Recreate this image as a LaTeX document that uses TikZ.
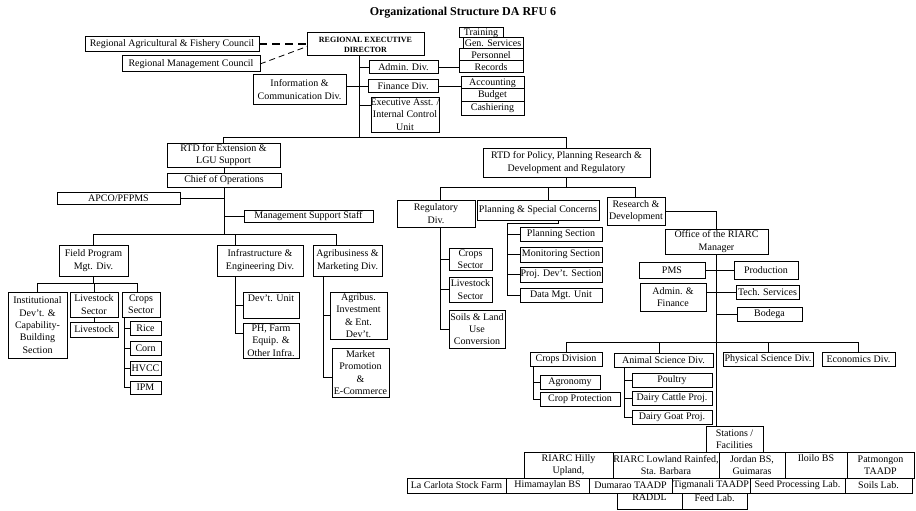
\documentclass[tikz,border=0pt]{standalone}
\usepackage{fontspec}
\setmainfont{Liberation Serif}
\tikzset{
 box/.style={draw, line width=1pt, inner sep=0pt, outer sep=0pt},
 txt/.style={inner sep=0pt, align=center, font=\fontsize{10}{12.3}\selectfont},
 ln/.style={line width=1pt},
}
\newcommand\bx[6]{\node[box,minimum width={#4pt-#2pt},minimum height={#5pt-#3pt}] (#1) at ({(#2+#4)/2},{(#3+#5)/2}) {};\node[txt] at (#1.center) {#6};}
\newcommand\bxt[7]{\node[box,minimum width={#4pt-#2pt},minimum height={#5pt-#3pt}] (#1) at ({(#2+#4)/2},{(#3+#5)/2}) {};\node[txt,anchor=north] at ([yshift=-#7pt]#1.north) {#6};}
\begin{document}
\begin{tikzpicture}[x=1pt,y=-1pt]
\useasboundingbox[fill=white] (0,0) rectangle (916,511);
\node[font=\bfseries\fontsize{12}{14}\selectfont] (title) at (463,13) {Organizational Structure DA RFU 6};
% top
\bx{rafc}{85}{37}{259}{52}{Regional Agricultural \& Fishery Council}
\bx{rmc}{122}{56}{260}{72}{Regional Management Council}
\node[box,minimum width=117pt,minimum height=23pt] (red) at (365.5,44.5) {};
\node[inner sep=0pt,align=center,font=\bfseries\fontsize{8}{10}\selectfont] at (red.center) {REGIONAL EXECUTIVE\\DIRECTOR};
\bx{train}{459}{28}{503}{38}{Training}
\bx{gen}{463}{38}{523}{49}{Gen. Services}
\bx{pers}{459}{49}{523}{61}{Personnel}
\bx{rec}{459}{61}{523}{73}{Records}
\bx{admin}{369}{61}{438}{74}{Admin. Div.}
\bx{acct}{461}{77}{524}{89}{Accounting}
\bx{budg}{461}{89}{524}{101}{Budget}
\bx{cash}{461}{101}{524}{115}{Cashiering}
\bx{fin}{368}{80}{438}{93}{Finance Div.}
\bx{info}{253}{75}{346}{104}{Information \&\\Communication Div.}
\bx{exec}{371}{97}{439}{132}{Executive Asst. /\\Internal Control\\Unit}
% left branch
\bx{rtdext}{167}{143}{280}{167}{RTD for Extension \&\\LGU Support}
\bx{chief}{167}{173}{281}{187}{Chief of Operations}
\bx{apco}{57}{192}{180}{204}{APCO/PFPMS}
\bx{mss}{244}{210}{373}{222}{Management Support Staff}
\bx{field}{59}{245}{128}{276}{Field Program\\Mgt. Div.}
\bx{infra}{217}{245}{303}{276}{Infrastructure \&\\Engineering Div.}
\bx{agri}{313}{245}{382}{276}{Agribusiness \&\\Marketing Div.}
\bx{inst}{8}{292}{67}{358}{Institutional\\Dev't. \&\\Capability-\\Building\\Section}
\bx{lsec}{70}{292}{118}{317}{Livestock\\Sector}
\bx{lv}{70}{322}{118}{337}{Livestock}
\bx{csec}{122}{292}{160}{317}{Crops\\Sector}
\bx{rice}{130}{321}{161}{335}{Rice}
\bx{corn}{130}{341}{161}{355}{Corn}
\bx{hvcc}{130}{361}{161}{375}{HVCC}
\bx{ipm}{130}{381}{161}{394}{IPM}
\bxt{devu}{243}{292}{299}{318}{Dev't. Unit}{3}
\bx{ph}{243}{323}{299}{358}{PH, Farm\\Equip. \&\\Other Infra.}
\bx{abinv}{330}{292}{387}{339}{Agribus.\\Investment\\\& Ent.\\Dev't.}
\bx{mkt}{332}{348}{389}{397}{Market\\Promotion\\\&\\E-Commerce}
% right branch
\bx{rtdpol}{483}{148}{650}{177}{RTD for Policy, Planning Research \&\\Development and Regulatory}
\bx{reg}{397}{200}{475}{227}{Regulatory\\Div.}
\bx{plan}{477}{200}{599}{220}{Planning \& Special Concerns}
\bx{rd}{607}{197}{665}{225}{Research \&\\Development}
\bx{psec}{520}{227}{602}{241}{Planning Section}
\bx{msec}{520}{247}{602}{262}{Monitoring Section}
\bx{pdsec}{520}{267}{602}{282}{Proj. Dev't. Section}
\bx{dmu}{520}{288}{602}{302}{Data Mgt. Unit}
\bx{rcrop}{449}{248}{492}{270}{Crops\\Sector}
\bx{rlive}{449}{277}{492}{302}{Livestock\\Sector}
\bx{soils}{449}{310}{505}{348}{Soils \& Land\\Use\\Conversion}
\bx{riarc}{665}{229}{768}{254}{Office of the RIARC\\Manager}
\bx{pms}{639}{262}{705}{278}{PMS}
\bx{prod}{734}{261}{798}{279}{Production}
\bx{af}{640}{283}{706}{311}{Admin. \&\\Finance}
\bx{tech}{736}{285}{799}{299}{Tech. Services}
\bx{bod}{737}{307}{802}{321}{Bodega}
\bx{cdiv}{530}{352}{602}{366}{Crops Division}
\bx{asdiv}{614}{353}{713}{367}{Animal Science Div.}
\bx{psdiv}{723}{352}{813}{366}{Physical Science Div.}
\bx{ediv}{822}{352}{895}{366}{Economics Div.}
\bx{agro}{540}{375}{600}{389}{Agronomy}
\bx{cprot}{540}{392}{620}{406}{Crop Protection}
\bx{poul}{632}{373}{712}{387}{Poultry}
\bx{dcat}{632}{391}{712}{405}{Dairy Cattle Proj.}
\bx{dgoat}{632}{410}{712}{424}{Dairy Goat Proj.}
\bx{stat}{706}{426}{763}{452}{Stations /\\Facilities}
\bx{hilly}{524}{452}{613}{478}{RIARC Hilly\\Upland,}
\bx{lowl}{613}{452}{719}{478}{RIARC Lowland Rainfed,\\Sta. Barbara}
\bx{jord}{719}{452}{785}{478}{Jordan BS,\\Guimaras}
\bxt{iloi}{785}{452}{847}{478}{Iloilo BS}{2}
\bx{patm}{847}{452}{914}{478}{Patmongon\\TAADP}
\bx{lac}{407}{478}{506}{493}{La Carlota Stock Farm}
\bx{him}{506}{478}{589}{493}{Himamaylan BS}
\bx{dum}{589}{478}{672}{493}{Dumarao TAADP}
\bx{tig}{672}{478}{750}{493}{Tigmanali TAADP}
\bx{seed}{750}{478}{845}{493}{Seed Processing Lab.}
\bx{soil}{845}{478}{912}{493}{Soils Lab.}
\bxt{raddl}{617}{493}{682}{509}{RADDL}{1}
\bxt{feed}{682}{493}{747}{509}{Feed Lab.}{1}
% connectors top
\draw[line width=2pt, dash pattern=on 8pt off 5pt] (rafc.east) -- (rafc.east -| red.west);
\draw[line width=0.8pt, dash pattern=on 6pt off 4pt] (rmc.east) -- ([yshift=-2pt]red.west);
\coordinate (t1) at (359,137);
\draw[ln] (red.south -| t1) -- (t1);
\draw[ln] (admin.west) -- (admin.west -| t1);
\draw[ln] (fin.west -| info.east) -- (fin.west);
\coordinate (ex1) at ([yshift=9pt]exec.west);
\draw[ln] (ex1) -- (ex1 -| t1);
\draw[ln] (admin.east) -- (admin.east -| rec.west);
\draw[ln] (fin.east) -- (fin.east -| acct.west);
\draw[ln] (rtdext.north |- t1) -- (rtdpol.north |- t1);
\draw[ln] (rtdext.north |- t1) -- (rtdext.north);
\draw[ln] (rtdpol.north |- t1) -- (rtdpol.north);
% left connectors
\draw[ln] (chief.north |- rtdext.south) -- (chief.north);
\coordinate (t2) at (224,234);
\draw[ln] (chief.south) -- (t2);
\draw[ln] (apco.east) -- (apco.east -| t2);
\draw[ln] (mss.west) -- (mss.west -| t2);
\coordinate (d2b) at (235,234);
\coordinate (d2c) at (336,234);
\draw[ln] (field.north |- t2) -- (d2c);
\draw[ln] (field.north |- t2) -- (field.north);
\draw[ln] (d2b) -- (d2b |- infra.north);
\draw[ln] (d2c) -- (d2c |- agri.north);
\coordinate (t3) at (93.5,283);
\coordinate (d3c) at (137,283);
\draw[ln] (field.south) -- (field.south |- t3);
\draw[ln] (inst.north |- t3) -- (d3c);
\draw[ln] (inst.north |- t3) -- (inst.north);
\draw[ln] (lsec.north |- t3) -- (lsec.north);
\draw[ln] (d3c) -- (d3c |- csec.north);
\draw[ln] (lsec.south) -- (lv.north);
\coordinate (csv) at (124,317);
\draw[ln] (csv) |- (ipm.west);
\foreach \n in {rice,corn,hvcc} \draw[ln] (\n.west) -- (\n.west -| csv);
\coordinate (iv) at (235,276);
\coordinate (phb) at ([yshift=7pt]ph.west);
\draw[ln] (iv) |- (phb);
\draw[ln] (devu.west) -- (devu.west -| iv);
\coordinate (av) at (323,276);
\coordinate (mkb) at ([yshift=-5pt]mkt.west);
\draw[ln] (av) |- (mkb);
\draw[ln] (abinv.west) -- (abinv.west -| av);
% right connectors
\coordinate (t4) at (566.5,187);
\draw[ln] (rtdpol.south) -- (rtdpol.south |- t4);
\coordinate (d4a) at (440,187);
\coordinate (d4b) at (548,187);
\coordinate (d4c) at (635,187);
\draw[ln] (d4a) -- (d4c);
\draw[ln] (d4a) -- (d4a |- reg.north);
\draw[ln] (d4b) -- (d4b |- plan.north);
\draw[ln] (d4c) -- (d4c |- rd.north);
\coordinate (rgv) at (440,227);
\draw[ln] (rgv) |- (soils.west);
\draw[ln] (rcrop.west) -- (rcrop.west -| rgv);
\draw[ln] (rlive.west) -- (rlive.west -| rgv);
\coordinate (pb) at (558,223.5);
\coordinate (pv) at (507,223.5);
\draw[ln] (pb |- plan.south) -- (pb) -- (pv) |- (dmu.west);
\foreach \n in {psec,msec,pdsec} \draw[ln] (\n.west) -- (\n.west -| pv);
\draw[ln] (rd.east) -| (riarc.north);
\draw[ln] (riarc.south) -- (riarc.south |- stat.north);
\draw[ln] (pms.east) -- (prod.west);
\draw[ln] (tech.west -| af.east) -- (tech.west);
\draw[ln] (bod.west) -- (bod.west -| riarc.south);
\coordinate (t5) at (716.5,342);
\coordinate (d5b) at (659,342);
\draw[ln] (cdiv.north |- t5) -- (ediv.north |- t5);
\draw[ln] (cdiv.north |- t5) -- (cdiv.north);
\draw[ln] (d5b) -- (d5b |- asdiv.north);
\draw[ln] (psdiv.north |- t5) -- (psdiv.north);
\draw[ln] (ediv.north |- t5) -- (ediv.north);
\coordinate (cdv) at (533,366);
\draw[ln] (cdv) |- (cprot.west);
\draw[ln] (agro.west) -- (agro.west -| cdv);
\coordinate (asv) at (624,367);
\draw[ln] (asv) |- (dgoat.west);
\foreach \n in {poul,dcat} \draw[ln] (\n.west) -- (\n.west -| asv);
\end{tikzpicture}
\end{document}
